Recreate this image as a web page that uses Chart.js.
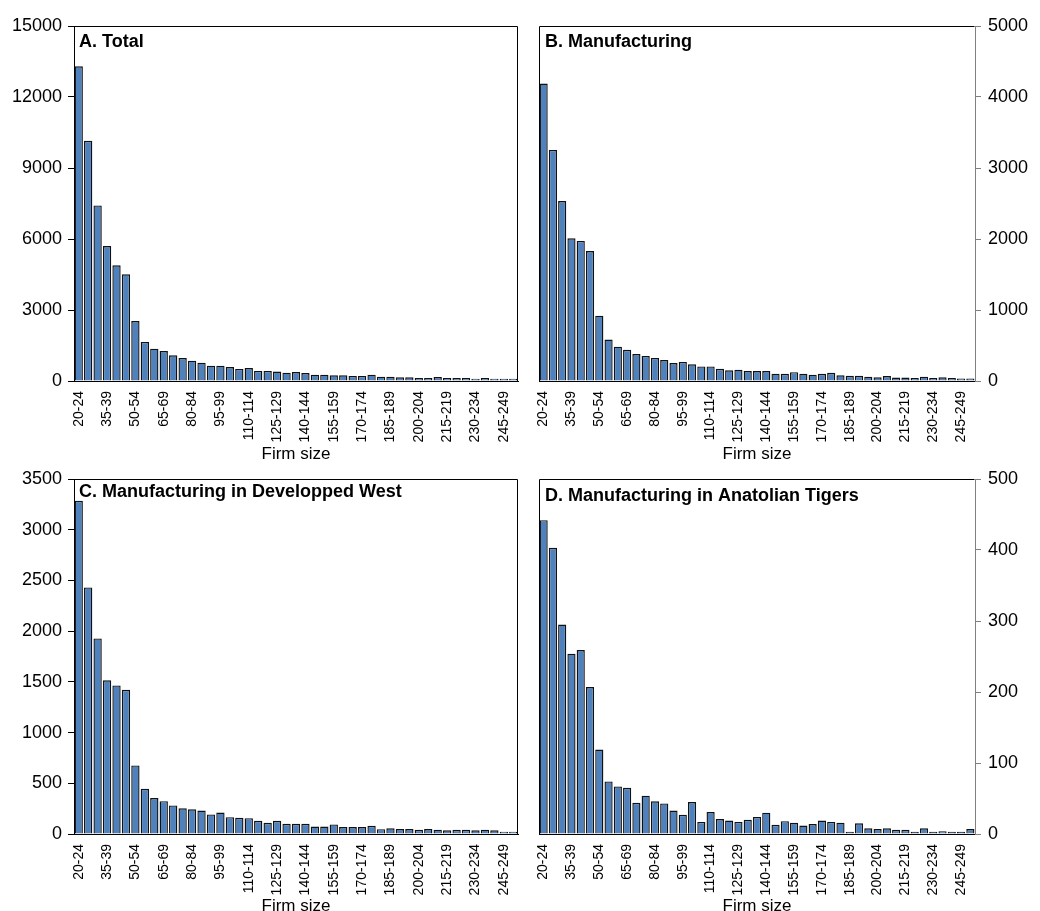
<!DOCTYPE html>
<html>
<head>
<meta charset="utf-8">
<script src="https://cdn.jsdelivr.net/npm/chart.js@4.4.1/dist/chart.umd.min.js"></script>
<style>
  html, body { margin: 0; padding: 0; background: #fff; overflow: hidden; }
  #wrap { position: relative; width: 1040px; height: 911px; overflow: hidden; }
  .panel { position: absolute; }
</style>
</head>
<body>
<div id="wrap">
  <div class="panel" style="left:0px;top:0px;width:520px;height:465px"><canvas id="chartA"></canvas></div>
  <div class="panel" style="left:520px;top:0px;width:520px;height:465px"><canvas id="chartB"></canvas></div>
  <div class="panel" style="left:0px;top:453px;width:520px;height:464px"><canvas id="chartC"></canvas></div>
  <div class="panel" style="left:520px;top:453px;width:520px;height:464px"><canvas id="chartD"></canvas></div>
</div>
<script>
var firm_sizes = ['20-24', '25-29', '30-34', '35-39', '40-44', '45-49', '50-54', '55-59', '60-64', '65-69',
    '70-74', '75-79', '80-84', '85-89', '90-94', '95-99', '100-104', '105-109', '110-114', '115-119',
    '120-124', '125-129', '130-134', '135-139', '140-144', '145-149', '150-154', '155-159', '160-164', '165-169',
    '170-174', '175-179', '180-184', '185-189', '190-194', '195-199', '200-204', '205-209', '210-214', '215-219',
    '220-224', '225-229', '230-234', '235-239', '240-244', '245-249', '250-254']

var total = [13300, 10150, 7420, 5700, 4890, 4510, 2530, 1650, 1366, 1267,
    1084, 971, 859, 774, 648, 648, 591, 510, 545, 425,
    425, 400, 352, 380, 335, 268, 268, 240, 240, 213,
    213, 268, 183, 183, 155, 155, 130, 130, 165, 127,
    127, 127, 100, 127, 100, 100, 100]

var manufacturing = [4190, 3255, 2535, 2010, 1973, 1831, 920, 583, 484, 440,
    379, 353, 325, 296, 252, 268, 235, 205, 205, 172,
    150, 160, 141, 141, 141, 103, 101, 125, 103, 89,
    101, 115, 80, 73, 73, 61, 52, 70, 49, 49,
    44, 61, 44, 52, 44, 35, 35]

var developed_west = [3285, 2431, 1928, 1516, 1465, 1422, 676, 446, 355, 324,
    282, 254, 244, 231, 193, 212, 166, 159, 156, 130,
    110, 130, 100, 100, 100, 74, 74, 94, 68, 68,
    68, 81, 48, 56, 49, 49, 41, 49, 43, 36,
    41, 41, 36, 43, 36, 23, 23]

var anatolian_tigers = [442, 403, 295, 254, 259, 207, 119, 74, 67, 65,
    44, 54, 46, 43, 33, 27, 45, 17, 31, 21,
    19, 17, 20, 24, 30, 13, 18, 16, 12, 14,
    19, 17, 16, 3, 15, 8, 7, 8, 6, 6,
    3, 8, 3, 4, 3, 3, 7]

var FONT = 'Liberation Sans, Arial, Helvetica, sans-serif'

// frame around the plot area + panel title in the top left corner
var framePlugin = {
    id: 'frame',
    afterDraw: function (chart, args, opts) {
        var ctx = chart.ctx
        var a = chart.chartArea
        var l = Math.round(a.left) + 0.5, r = Math.round(a.right) - 0.5
        var t = Math.round(a.top) + 0.5
        ctx.save()
        ctx.strokeStyle = '#000'
        ctx.lineWidth = 1
        ctx.beginPath()
        ctx.moveTo(l, t)
        ctx.lineTo(r, t)
        if (opts.side === 'left') {
            ctx.moveTo(r, t)
            ctx.lineTo(r, Math.round(a.bottom))
        } else {
            ctx.moveTo(l, t)
            ctx.lineTo(l, Math.round(a.bottom))
        }
        ctx.stroke()
        ctx.fillStyle = '#000'
        ctx.font = 'bold 18px ' + FONT
        ctx.textBaseline = 'middle'
        ctx.textAlign = 'left'
        ctx.fillText(opts.title, a.left + opts.dx, a.top + opts.dy)
        ctx.restore()
    }
}

function makePanel(id, data, title, side, yMax, yStep, dx, dy) {
    var axisColor = side === 'left' ? '#000' : '#808080'
    return new Chart(
        document.getElementById(id),
        {
            type: 'bar',
            data: {
                labels: firm_sizes,
                datasets: [
                    {
                        label: title,
                        data: data,
                        backgroundColor: '#4f81bd',
                        borderColor: '#111',
                        borderWidth: 1.4,
                        categoryPercentage: 1.0,
                        barPercentage: 0.88,
                    },
                ]
            },
            options: {
                responsive: true,
                maintainAspectRatio: false,
                animation: false,
                layout: {
                    padding: side === 'left' ? { top: 26, right: 2, left: 0, bottom: 0 } : { top: 26, right: 0, left: 19, bottom: 0 }
                },
                plugins: {
                    legend: { display: false },
                    tooltip: { enabled: false },
                    frame: { title: title, side: side, dx: dx, dy: dy }
                },
                scales: {
                    x: {
                        grid: { display: false },
                        border: { display: true, color: '#000', width: 1 },
                        ticks: {
                            autoSkip: false,
                            minRotation: 90,
                            maxRotation: 90,
                            padding: 2,
                            color: '#000',
                            font: { family: FONT, size: 14 },
                            callback: function (value, index) {
                                return index % 3 === 0 ? firm_sizes[index] : ''
                            }
                        },
                        title: {
                            display: true,
                            text: 'Firm size',
                            color: '#000',
                            font: { family: FONT, size: 17 },
                            padding: { top: 0, bottom: 0 }
                        },
                        afterFit: function (scale) {
                            scale.height = scale.chart.height - 26 - 355
                            scale.paddingLeft = 0
                            scale.paddingRight = 0
                        }
                    },
                    y: {
                        position: side,
                        min: 0,
                        max: yMax,
                        grid: {
                            drawOnChartArea: false,
                            tickLength: 6,
                            color: axisColor
                        },
                        border: { display: true, color: axisColor, width: 1 },
                        ticks: {
                            stepSize: yStep,
                            padding: side === 'left' ? 6 : 7,
                            color: '#000',
                            font: { family: FONT, size: 18 },
                            callback: function (value) {
                                return String(value)
                            }
                        },
                        afterFit: function (scale) {
                            scale.width = side === 'left' ? 74 : 65
                        }
                    }
                }
            },
            plugins: [framePlugin]
        }
    )
}

var chartA = makePanel('chartA', total, 'A. Total', 'left', 15000, 3000, 5, 16)
var chartB = makePanel('chartB', manufacturing, 'B. Manufacturing', 'right', 5000, 1000, 6, 16)
var chartC = makePanel('chartC', developed_west, 'C. Manufacturing in Developped West', 'left', 3500, 500, 5, 13)
var chartD = makePanel('chartD', anatolian_tigers, 'D. Manufacturing in Anatolian Tigers', 'right', 500, 100, 6, 17)
</script>
</body>
</html>
